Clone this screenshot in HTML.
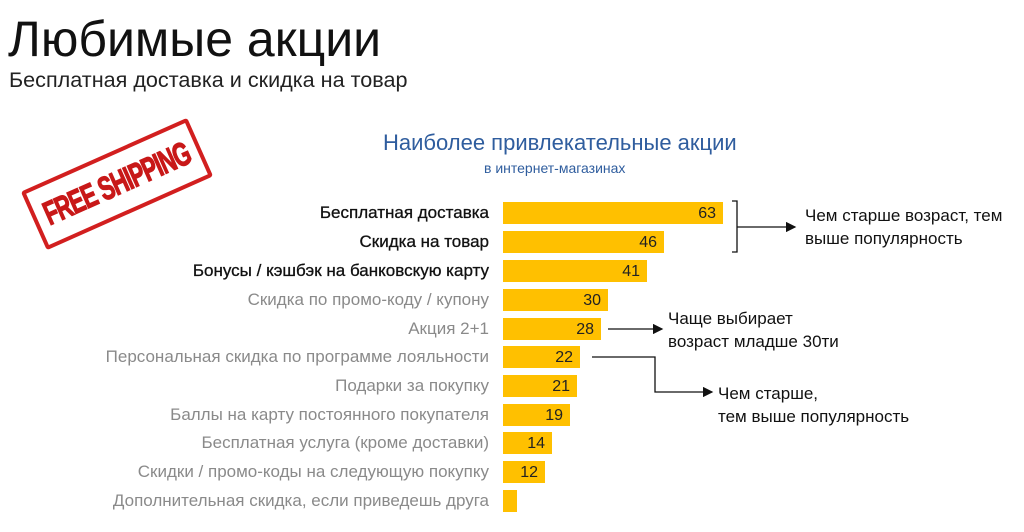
<!DOCTYPE html>
<html><head><meta charset="utf-8"><style>
body{margin:0;width:1024px;height:532px;background:#fff;position:relative;overflow:hidden;font-family:"Liberation Sans","DejaVu Sans",sans-serif;}
.a{position:absolute;white-space:nowrap;}
.lab{position:absolute;right:535px;font-size:17px;color:#8a8a8a;text-align:right;line-height:22px;white-space:nowrap;}
.b{color:#111;-webkit-text-stroke:0.3px #111;}
.bar{position:absolute;left:503px;height:22px;background:#ffc000;font-size:16px;color:#222;text-align:right;line-height:24px;box-sizing:border-box;padding-right:7px;}
.ann{position:absolute;font-size:17px;color:#111;line-height:23px;white-space:nowrap;}
</style></head><body>
<div class="a" style="left:8px;top:10px;font-size:50px;color:#111;">Любимые акции</div>
<div class="a" style="left:9px;top:67px;font-size:21.6px;color:#222;">Бесплатная доставка и скидка на товар</div>
<div class="a" style="left:383px;top:130px;font-size:22px;color:#2f5d9e;">Наиболее привлекательные акции</div>
<div class="a" style="left:484px;top:160px;font-size:14px;color:#2f5d9e;">в интернет-магазинах</div>

<div style="position:absolute;left:26px;top:152px;width:182px;height:64px;border:4px solid #d21f1f;transform:rotate(-24deg);border-radius:3px;box-sizing:border-box;">
<div style="font-weight:bold;font-size:22px;color:#c81818;text-align:center;line-height:56px;transform:scaleY(1.5);letter-spacing:-1px;white-space:nowrap;-webkit-text-stroke:0.8px #c81818;">FREE SHIPPING</div></div>

<div class="lab b" style="top:202px">Бесплатная доставка</div>
<div class="lab b" style="top:231px">Скидка на товар</div>
<div class="lab b" style="top:260px">Бонусы / кэшбэк на банковскую карту</div>
<div class="lab" style="top:289px">Скидка по промо-коду / купону</div>
<div class="lab" style="top:318px">Акция 2+1</div>
<div class="lab" style="top:346px">Персональная скидка по программе лояльности</div>
<div class="lab" style="top:375px">Подарки за покупку</div>
<div class="lab" style="top:404px">Баллы на карту постоянного покупателя</div>
<div class="lab" style="top:432px">Бесплатная услуга (кроме доставки)</div>
<div class="lab" style="top:461px">Скидки / промо-коды на следующую покупку</div>
<div class="lab" style="top:490px">Дополнительная скидка, если приведешь друга</div>

<div class="bar" style="top:202px;width:220px">63</div>
<div class="bar" style="top:231px;width:161px">46</div>
<div class="bar" style="top:260px;width:144px">41</div>
<div class="bar" style="top:289px;width:105px">30</div>
<div class="bar" style="top:318px;width:98px">28</div>
<div class="bar" style="top:346px;width:77px">22</div>
<div class="bar" style="top:375px;width:74px">21</div>
<div class="bar" style="top:404px;width:67px">19</div>
<div class="bar" style="top:432px;width:49px">14</div>
<div class="bar" style="top:461px;width:42px">12</div>
<div class="bar" style="top:490px;width:14px"></div>

<svg style="position:absolute;left:0;top:0" width="1024" height="532">
<defs><marker id="m" markerWidth="8" markerHeight="8" refX="7" refY="4" orient="auto"><path d="M0,0 L8,4 L0,8 Z" fill="#111"/></marker></defs>
<g stroke="#111" stroke-width="1.3" fill="none">
<path d="M732,201 H737 V252 H732"/>
<path d="M737,227 H795" marker-end="url(#m)"/>
<path d="M608,329 H662" marker-end="url(#m)"/>
<path d="M592,357 H655 V392 H712" marker-end="url(#m)"/>
</g></svg>
<div class="ann" style="left:805px;top:204px">Чем старше возраст, тем<br>выше популярность</div>
<div class="ann" style="left:668px;top:307px">Чаще выбирает<br>возраст младше 30ти</div>
<div class="ann" style="left:718px;top:382px">Чем старше,<br>тем выше популярность</div>
</body></html>
